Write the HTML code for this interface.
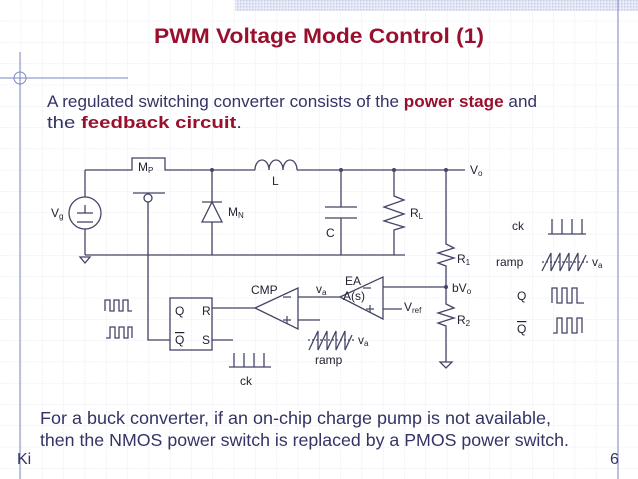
<!DOCTYPE html>
<html><head><meta charset="utf-8"><style>
html,body{margin:0;padding:0;background:#fff}
body{width:638px;height:479px;overflow:hidden;position:relative;font-family:"Liberation Sans",sans-serif}
svg{position:absolute;left:0;top:0}
</style></head><body>
<svg width="638" height="479" viewBox="0 0 638 479" xmlns="http://www.w3.org/2000/svg" font-family="Liberation Sans, sans-serif">
<defs>
<pattern id="g" width="21.3" height="21.3" patternUnits="userSpaceOnUse">
<path d="M21.3 0V21.3M0 21.3H21.3" stroke="#e4e6ef" stroke-width="1" stroke-dasharray="2,1" fill="none"/>
</pattern>
<pattern id="d" width="3" height="3" patternUnits="userSpaceOnUse">
<rect width="3" height="3" fill="#e9ecf7"/><rect width="1.5" height="1.5" fill="#c5cbe8"/>
</pattern>
</defs>
<rect width="638" height="479" fill="url(#g)"/>
<rect x="235" y="0" width="403" height="11" fill="url(#d)"/>
<g stroke="#7d86c4" stroke-width="1" fill="none">
<line x1="618" y1="0" x2="618" y2="479"/>
<line x1="20" y1="52" x2="20" y2="479"/>
<line x1="0" y1="78" x2="128" y2="78"/>
<circle cx="20" cy="78" r="6"/>
</g>
<text x="154" y="43" textLength="330" lengthAdjust="spacingAndGlyphs" font-size="21" font-weight="bold" fill="#99102e">PWM Voltage Mode Control (1)</text>
<g font-size="16.5" fill="#333366">
<text x="47" y="107" textLength="490" lengthAdjust="spacingAndGlyphs">A regulated switching converter consists of the <tspan font-weight="bold" fill="#99102e">power stage</tspan> and</text>
<text x="47" y="128" textLength="195" lengthAdjust="spacingAndGlyphs">the <tspan font-weight="bold" fill="#99102e">feedback circuit</tspan>.</text>
<text x="40" y="424" font-size="17.5" textLength="511" lengthAdjust="spacingAndGlyphs">For a buck converter, if an on-chip charge pump is not available,</text>
<text x="40" y="446" font-size="17.5" textLength="529" lengthAdjust="spacingAndGlyphs">then the NMOS power switch is replaced by a PMOS power switch.</text>
<text x="17" y="464" font-size="16">Ki</text>
<text x="610" y="464" font-size="16">6</text>
</g>
<g stroke="#444466" stroke-width="1.3" fill="none">
<polyline points="85,170 132,170 132,158 165,158 165,170 255,170"/>
<path d="M255 170 a7 10 0 0 1 14 0 a7 10 0 0 1 14 0 a7 10 0 0 1 14 0"/>
<line x1="297" y1="170" x2="465" y2="170"/>
<line x1="85" y1="170" x2="85" y2="255"/>
<circle cx="85" cy="213" r="16" fill="#fff"/>
<line x1="77" y1="213" x2="93" y2="213"/><line x1="85" y1="205" x2="85" y2="213"/><line x1="77" y1="222" x2="93" y2="222"/>
<line x1="85" y1="255" x2="405" y2="255"/>
<path d="M80 257 L90 257 L85 263 Z"/>
<line x1="133" y1="193" x2="165" y2="193"/>
<circle cx="148" cy="198" r="4"/>
<polyline points="148,202 148,340 170,340"/>
<line x1="212" y1="170" x2="212" y2="255"/>
<path d="M202 222 L222 222 L212 202 Z" fill="#fff"/>
<line x1="202" y1="202" x2="222" y2="202"/>
<line x1="341" y1="170" x2="341" y2="207"/><line x1="341" y1="218" x2="341" y2="255"/>
<line x1="325" y1="207" x2="357" y2="207"/><line x1="325" y1="218" x2="357" y2="218"/>
<polyline points="394,170 394,196 404,200 384,207 404,214 384,221 404,227 394,230 394,255"/>
<polyline points="446,170 446,244 454,248 438,253 454,258 438,263 446,266 446,304 454,308 438,313 454,318 438,323 446,326 446,362"/>
<path d="M440 362 L452 362 L446 368 Z"/>
<path d="M340 297 L383 277 L383 319 Z"/>
<line x1="383" y1="287" x2="446" y2="287"/>
<line x1="383" y1="309" x2="402" y2="309"/>
<line x1="298" y1="297" x2="340" y2="297"/>
<path d="M255 308 L298 288 L298 329 Z"/>
<line x1="298" y1="320" x2="320" y2="320"/>
<line x1="212" y1="308" x2="255" y2="308"/>
<rect x="170" y="298" width="42" height="52"/>
<line x1="212" y1="340" x2="233" y2="340"/>
<polyline points="229,367 271,367"/>
<line x1="234" y1="367" x2="234" y2="353"/><line x1="244" y1="367" x2="244" y2="353"/><line x1="254" y1="367" x2="254" y2="353"/><line x1="264" y1="367" x2="264" y2="353"/>
<polyline points="309,350 318,331 318,350 327,331 327,350 336,331 336,350 345,331 345,350 352,335"/>
<line x1="308" y1="340" x2="355" y2="340" stroke-dasharray="2,2"/>
<polyline points="105,311 105,300 110,300 110,311 114,311 114,300 119,300 119,311 123,311 123,300 128,300 128,311 132,311"/>
<polyline points="106,338 110,338 110,327 115,327 115,338 119,338 119,327 124,327 124,338 128,338 128,327 132,327 132,338"/>
<polyline points="548,234 586,234"/>
<line x1="552" y1="234" x2="552" y2="219"/><line x1="562" y1="234" x2="562" y2="219"/><line x1="572" y1="234" x2="572" y2="219"/><line x1="582" y1="234" x2="582" y2="219"/>
<polyline points="542,271 551,253 551,271 560,253 560,271 569,253 569,271 578,253 578,271 586,255"/>
<line x1="542" y1="262" x2="590" y2="262" stroke-dasharray="2,2"/>
<polyline points="552,303 552,288 557,288 557,303 562,303 562,288 567,288 567,303 572,303 572,288 577,288 577,303 584,303"/>
<polyline points="553,333 557,333 557,318 562,318 562,333 567,333 567,318 572,318 572,333 577,333 577,318 582,318 582,333"/>
</g>
<g fill="#444466">
<circle cx="212" cy="170" r="2"/><circle cx="341" cy="170" r="2"/><circle cx="394" cy="170" r="2"/><circle cx="446" cy="170" r="2"/><circle cx="446" cy="287" r="2"/>
</g>
<g font-size="12" fill="#222233">
<text x="138" y="171">M<tspan font-size="8" dy="2">P</tspan></text>
<text x="228" y="216">M<tspan font-size="8" dy="2">N</tspan></text>
<text x="272" y="185">L</text>
<text x="326" y="237">C</text>
<text x="410" y="217">R<tspan font-size="8" dy="2">L</tspan></text>
<text x="470" y="174">V<tspan font-size="8" dy="2">o</tspan></text>
<text x="51" y="217">V<tspan font-size="8" dy="2">g</tspan></text>
<text x="457" y="263">R<tspan font-size="8" dy="2">1</tspan></text>
<text x="452" y="292">bV<tspan font-size="8" dy="2">o</tspan></text>
<text x="457" y="324">R<tspan font-size="8" dy="2">2</tspan></text>
<text x="404" y="311">V<tspan font-size="8" dy="2">ref</tspan></text>
<text x="345" y="285">EA</text>
<text x="343" y="300">A(s)</text>
<text x="251" y="294">CMP</text>
<text x="316" y="293">v<tspan font-size="8" dy="2">a</tspan></text>
<text x="358" y="344">v<tspan font-size="8" dy="2">a</tspan></text>
<text x="315" y="364">ramp</text>
<text x="240" y="385">ck</text>
<text x="175" y="315">Q</text><text x="202" y="315">R</text>
<text x="175" y="344" text-decoration="overline">Q</text><text x="202" y="344">S</text>
<text x="512" y="230">ck</text>
<text x="496" y="266">ramp</text>
<text x="592" y="266">v<tspan font-size="8" dy="2">a</tspan></text>
<text x="517" y="300">Q</text>
<text x="517" y="333" text-decoration="overline">Q</text>
</g>
<g stroke="#444466" stroke-width="1.2">
<line x1="283" y1="297" x2="291" y2="297"/>
<line x1="283" y1="320" x2="291" y2="320"/><line x1="287" y1="316" x2="287" y2="324"/>
<line x1="366" y1="309" x2="374" y2="309"/><line x1="370" y1="305" x2="370" y2="313"/>
<line x1="363" y1="288" x2="371" y2="288"/>
</g>
</svg>
</body></html>
